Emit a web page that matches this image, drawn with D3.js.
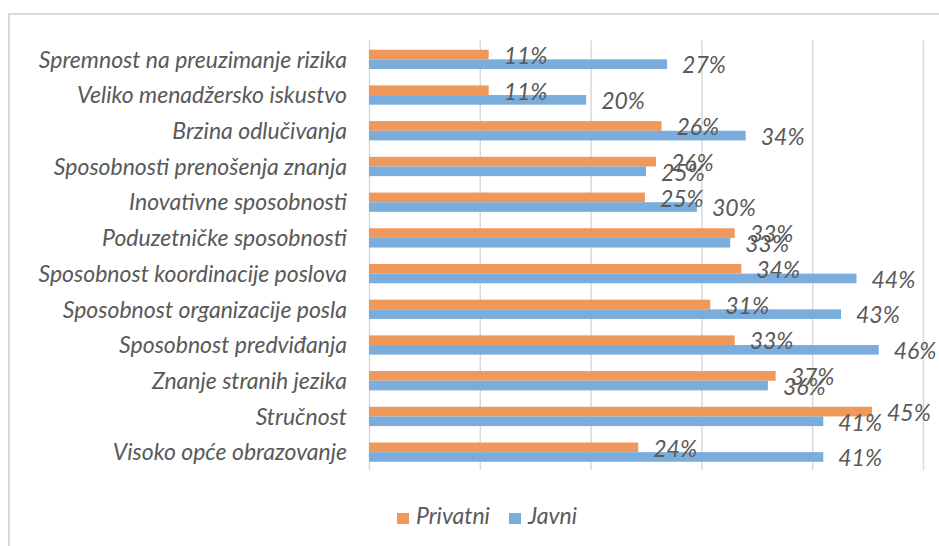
<!DOCTYPE html>
<html>
<head>
<meta charset="utf-8">
<script src="https://cdn.jsdelivr.net/npm/d3@7"></script>
<style>
  body { margin: 0; background: #fff; }
  svg text { font-family: Lato, "Open Sans", sans-serif; font-style: italic; fill: #595959; }
</style>
</head>
<body>
<svg id="chart" width="939" height="546"></svg>
<script>
// kategorije i vrijednosti (udio, u %)
const categories = [
  "Spremnost na preuzimanje rizika",
  "Veliko menadžersko iskustvo",
  "Brzina odlučivanja",
  "Sposobnosti prenošenja znanja",
  "Inovativne sposobnosti",
  "Poduzetničke sposobnosti",
  "Sposobnost koordinacije poslova ",
  "Sposobnost organizacije posla",
  "Sposobnost predviđanja",
  "Znanje stranih jezika",
  "Stručnost",
  "Visoko opće obrazovanje"
];
const privatni = [10.8, 10.8, 26.4, 25.9, 24.9, 33.0, 33.6, 30.8, 33.0, 36.7, 45.4, 24.3];
const javni = [26.9, 19.6, 34.0, 25.0, 29.6, 32.6, 44.0, 42.6, 46.0, 36.0, 41.0, 41.0];
const seriesNames = ["Privatni", "Javni"];
const xTicks = [0, 10, 20, 30, 40, 50];

const colors = { Privatni: "#F0975A", Javni: "#7BADDC" };

const svg = d3.select("#chart");

// okvir grafikona
svg.append("rect")
  .attr("x", 9).attr("y", 14)
  .attr("width", 980).attr("height", 600)
  .style("fill", "none")
  .style("stroke", "#d9d9d9")
  .style("stroke-width", 2);

const plotLeft = 369, plotRight = 923, plotTop = 41.5, plotBottom = 470;

const x = d3.scaleLinear().domain([0, 50]).range([plotLeft, plotRight]);
const y = d3.scaleBand().domain(categories).range([plotTop, plotBottom])
  .paddingInner(0.46).paddingOuter(0.23);
const ySub = d3.scaleBand().domain(seriesNames).range([0, y.bandwidth()]);

// mreža
const grid = svg.append("g")
  .attr("transform", `translate(0, ${plotBottom})`)
  .call(d3.axisBottom(x).tickValues(xTicks).tickSize(-(plotBottom - plotTop + 1)).tickFormat(""));
grid.select(".domain").remove();
grid.selectAll(".tick line").style("stroke", "#d9d9d9").style("stroke-width", 1.5);

// kategorije
const yAxis = svg.append("g")
  .attr("transform", `translate(${plotLeft}, 0)`)
  .call(d3.axisLeft(y).tickSize(0).tickPadding(22));
yAxis.select(".domain").remove();
yAxis.selectAll("text")
  .style("font-size", "23px")
  .attr("dy", "0.36em")
  .style("fill", "#595959");

const rows = categories.map((c, i) => ({
  cat: c,
  vals: [{ s: "Privatni", v: privatni[i] }, { s: "Javni", v: javni[i] }]
}));

const fmt = d => d3.format(".0%")(d / 100);

const g = svg.selectAll("g.row").data(rows).enter()
  .append("g").attr("class", "row")
  .attr("transform", d => `translate(0, ${y(d.cat)})`);

g.selectAll("rect").data(d => d.vals).enter()
  .append("rect")
  .attr("x", x(0))
  .attr("y", d => ySub(d.s))
  .attr("width", d => x(d.v) - x(0))
  .attr("height", ySub.bandwidth())
  .style("fill", d => colors[d.s]);

g.selectAll("text.lbl").data(d => d.vals).enter()
  .append("text").attr("class", "lbl")
  .attr("x", d => x(d.v) + 15)
  .attr("y", d => ySub(d.s) + ySub.bandwidth() / 2 + 1)
  .attr("dy", "0.36em")
  .style("font-size", "23px")
  .text(d => fmt(d.v));

// legenda
const legend = svg.append("g").attr("transform", "translate(397, 513)");
const legX = [0, 112];
seriesNames.forEach((s, i) => {
  const item = legend.append("g").attr("transform", `translate(${legX[i]}, 0)`);
  item.append("rect").attr("width", 12).attr("height", 11).style("fill", colors[s]);
  item.append("text").attr("x", 19).attr("y", 11)
    .style("font-size", "23px")
    .text(s);
});
</script>
</body>
</html>
